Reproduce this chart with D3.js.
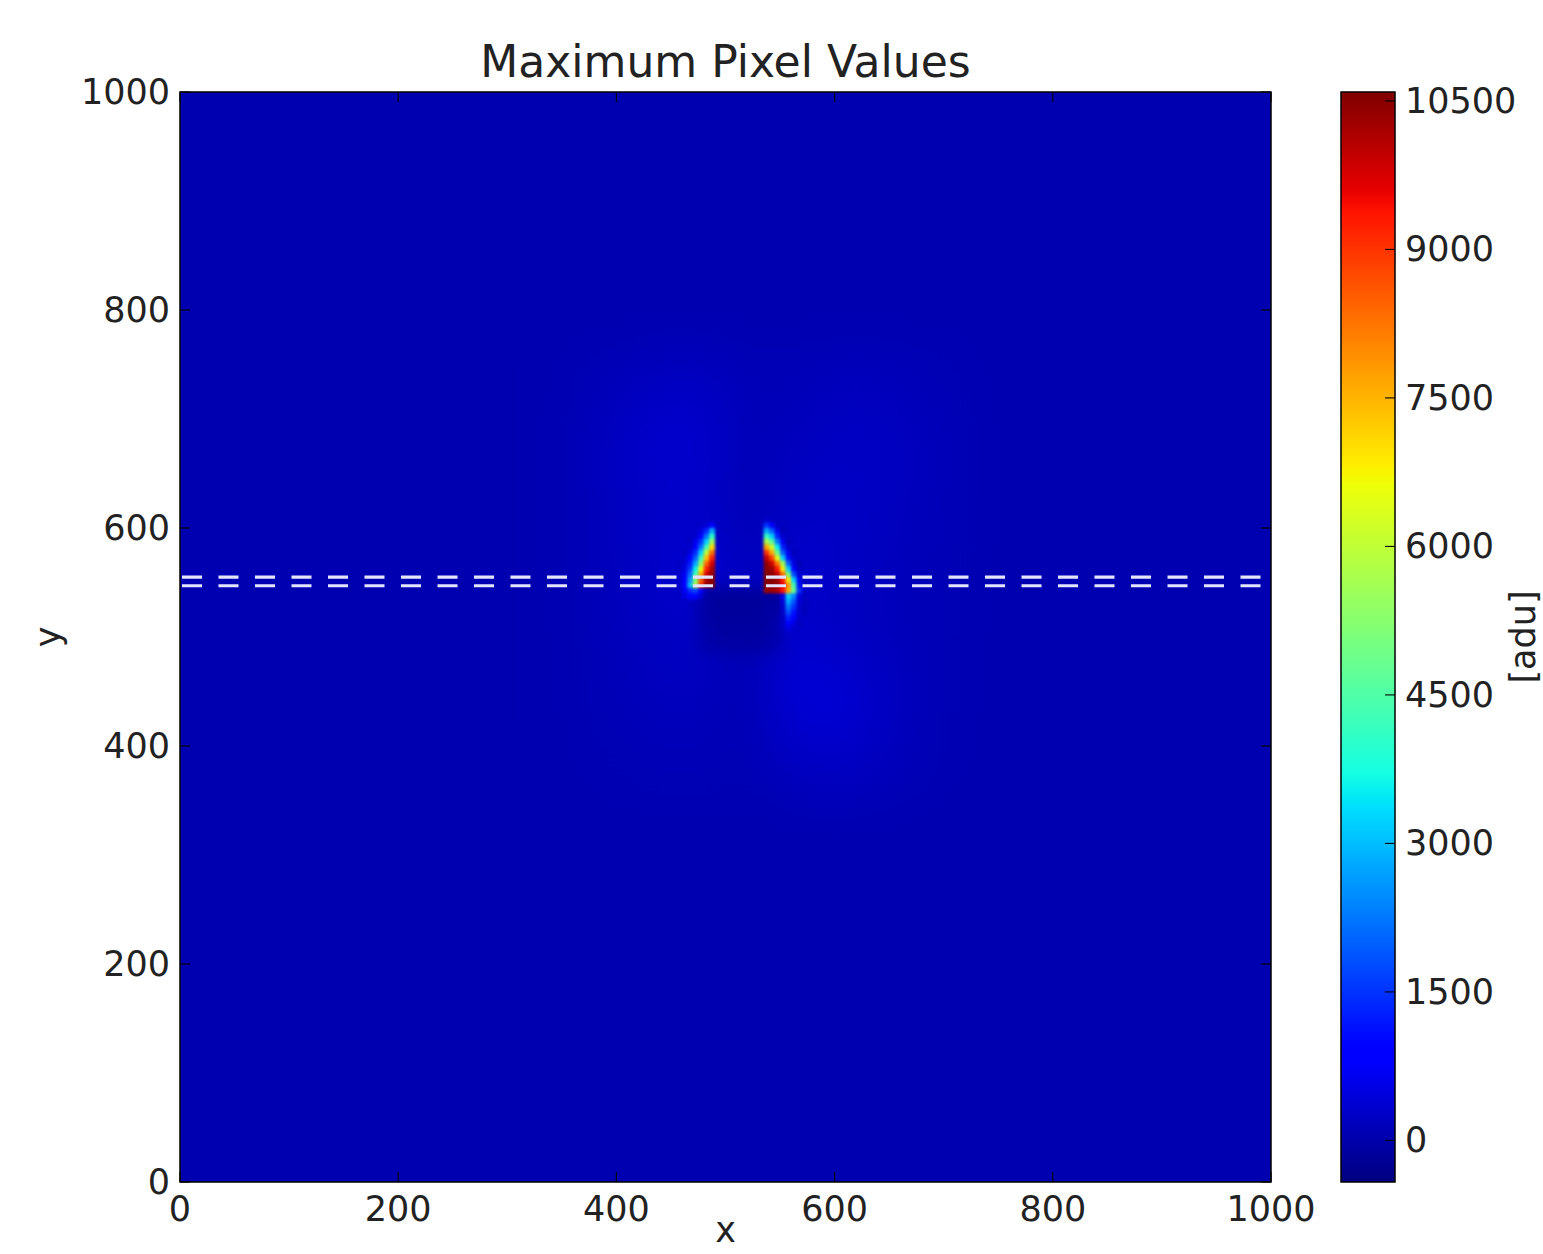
<!DOCTYPE html>
<html>
<head>
<meta charset="utf-8">
<script src="https://cdn.jsdelivr.net/npm/d3@7"></script>
<style>
  html, body { margin: 0; padding: 0; background: #fff; }
  svg { display: block; font-family: "DejaVu Sans", sans-serif; }
</style>
</head>
<body>
<svg id="chart" width="1543" height="1254"></svg>
<script>
// colour range of the colorbar
const vmin = -420;
const vmax = 10590;
const background = 40;

const xTicks = [0, 200, 400, 600, 800, 1000];
const yTicks = [0, 200, 400, 600, 800, 1000];
const cbTicks = [0, 1500, 3000, 4500, 6000, 7500, 9000, 10500];

// the two dashed rows
const cutRows = [547, 555];

// faint glow around the centre, 40 px cells (left edges / bottom edges)
const haloX0 = [340, 380, 420, 460, 500, 540, 580, 620, 660, 700];
const haloY0 = [740, 700, 660, 620, 580, 540, 500, 460, 420, 380, 340];
const haloValues = [
  [60, 80, 120, 120, 80, 80, 100, 100, 80, 60],
  [70, 150, 250, 250, 120, 120, 180, 180, 120, 70],
  [80, 200, 330, 300, 120, 150, 220, 220, 150, 80],
  [80, 200, 300, 280, 100, 200, 250, 220, 150, 80],
  [80, 180, 280, 300, 100, 250, 250, 200, 130, 80],
  [80, 170, 280, 400, 150, 350, 250, 180, 120, 70],
  [70, 150, 230, 250, 60, 300, 220, 160, 110, 70],
  [60, 130, 200, 200, 40, 380, 300, 200, 110, 60],
  [60, 110, 160, 150, 80, 380, 420, 250, 110, 60],
  [50, 90, 120, 120, 80, 250, 300, 200, 100, 50],
  [40, 60, 80, 80, 60, 120, 150, 120, 70, 40]
];

// darker gap under the two arcs, 15 px cells
const gapX0 = [475, 490, 505, 520, 535];
const gapY0 = [530, 515, 500, 485];
const gapValues = [
  [-100, -160, -160, -160, -120],
  [-80, -150, -150, -150, -100],
  [-40, -120, -120, -130, -60],
  [0, -60, -60, -80, 0]
];

// left arc, 5 px cells
const leftX0 = [455, 460, 465, 470, 475, 480, 485];
const leftY0 = [600, 595, 590, 585, 580, 575, 570, 565, 560, 555, 550, 545, 540, 535];
const leftValues = [
  [null, null, null, null, null, 400, 900],
  [null, null, null, null, 500, 1300, 2800],
  [null, null, null, 300, 900, 2200, 4000],
  [null, null, 200, 600, 1500, 3200, 5500],
  [null, null, 300, 900, 2200, 4300, 7000],
  [null, 200, 500, 1400, 3200, 6000, 8300],
  [null, 300, 800, 2000, 4200, 7300, 9200],
  [200, 400, 1200, 2800, 5300, 8400, 9800],
  [250, 500, 1600, 3600, 6600, 9200, 10200],
  [300, 700, 2100, 4400, 7600, 9800, 10400],
  [300, 900, 2600, 5200, 8500, 10200, 10500],
  [300, 1000, 3000, 5800, 9000, 10400, 10500],
  [250, 700, 1400, 1700, 900, 100, -100],
  [200, 500, 900, 900, 400, -50, -120]
];

// right arc and its tail, 5 px cells
const rightX0 = [535, 540, 545, 550, 555, 560, 565, 570];
const rightY0 = [605, 600, 595, 590, 585, 580, 575, 570, 565, 560, 555, 550, 545, 540,
                 535, 530, 525, 520, 515, 510, 505];
const rightValues = [
  [300, null, null, null, null, null, null, null],
  [1500, 800, 200, null, null, null, null, null],
  [2800, 2000, 600, 100, null, null, null, null],
  [4200, 3200, 1300, 300, null, null, null, null],
  [5800, 4600, 2300, 700, 100, null, null, null],
  [7600, 6200, 3500, 1300, 300, null, null, null],
  [9000, 7600, 4800, 2000, 600, 100, null, null],
  [9900, 8800, 6400, 3200, 1100, 300, null, null],
  [10400, 9800, 8200, 5600, 2000, 500, 100, null],
  [10500, 10300, 9300, 6800, 3200, 900, 200, null],
  [10500, 10500, 10000, 8300, 5000, 1800, 400, null],
  [10500, 10500, 10300, 9300, 6800, 3200, 700, 150],
  [10500, 10500, 10400, 9600, 7800, 4400, 1100, 250],
  [10300, 10300, 10100, 9400, 7600, 4800, 1500, 300],
  [-120, -120, -100, 600, 3200, 2400, 500, 150],
  [-120, -120, -100, 400, 2800, 1900, 400, 150],
  [-100, -100, -80, 300, 2300, 1500, 300, 150],
  [-80, -80, -60, 250, 1800, 1100, 300, 150],
  [null, null, null, 200, 1300, 800, 250, null],
  [null, null, null, 200, 900, 500, 200, null],
  [null, null, null, 150, 500, 300, null, null]
];

const haloStep = 40, gapStep = 15, fineStep = 5;

// layout
const pLeft = 180, pRight = 1271, pTop = 92, pBottom = 1182;
const cbLeft = 1341, cbRight = 1395;

const x = d3.scaleLinear().domain([0, 1000]).range([pLeft, pRight]);
const y = d3.scaleLinear().domain([0, 1000]).range([pBottom, pTop]);
const cbY = d3.scaleLinear().domain([vmin, vmax]).range([pBottom, pTop]);

// matplotlib "jet"
const jetR = d3.scaleLinear().domain([0, 0.35, 0.66, 0.89, 1]).range([0, 0, 1, 1, 0.5]).clamp(true);
const jetG = d3.scaleLinear().domain([0, 0.125, 0.375, 0.64, 0.91, 1]).range([0, 0, 1, 1, 0, 0]).clamp(true);
const jetB = d3.scaleLinear().domain([0, 0.11, 0.34, 0.65, 1]).range([0.5, 1, 1, 0, 0]).clamp(true);
const norm = d3.scaleLinear().domain([vmin, vmax]).range([0, 1]).clamp(true);
function jetT(t) {
  return d3.rgb(jetR(t) * 255, jetG(t) * 255, jetB(t) * 255).formatHex();
}
const jet = v => jetT(norm(v));

const svg = d3.select("#chart");
const defs = svg.append("defs");

defs.append("clipPath").attr("id", "plotClip")
  .append("rect").attr("x", pLeft).attr("y", pTop)
  .attr("width", pRight - pLeft).attr("height", pBottom - pTop);

function blur(id, sd) {
  defs.append("filter").attr("id", id)
    .attr("x", "-20%").attr("y", "-20%").attr("width", "140%").attr("height", "140%")
    .attr("color-interpolation-filters", "sRGB")
    .append("feGaussianBlur").attr("stdDeviation", sd);
}
blur("blurHalo", 22);
blur("blurGap", 7);
blur("blurFine", 1.8);

function drawGrid(g, xs, ys, vals, step) {
  let cells = [];
  ys.forEach((y0, r) => xs.forEach((x0, c) => {
    let v = vals[r][c];
    if (v !== null) cells.push({ x0, y0, v });
  }));
  g.selectAll("rect").data(cells).join("rect")
    .attr("x", d => x(d.x0))
    .attr("y", d => y(d.y0 + step))
    .attr("width", x(step) - x(0) + 0.4)
    .attr("height", y(0) - y(step) + 0.4)
    .attr("fill", d => jet(d.v));
}

const plot = svg.append("g").attr("clip-path", "url(#plotClip)");
plot.append("rect")
  .attr("x", pLeft).attr("y", pTop)
  .attr("width", pRight - pLeft).attr("height", pBottom - pTop)
  .attr("fill", jet(background));

drawGrid(plot.append("g").attr("filter", "url(#blurHalo)"), haloX0, haloY0, haloValues, haloStep);
drawGrid(plot.append("g").attr("filter", "url(#blurGap)"), gapX0, gapY0, gapValues, gapStep);
drawGrid(plot.append("g").attr("filter", "url(#blurFine)"), leftX0, leftY0, leftValues, fineStep);
drawGrid(plot.append("g").attr("filter", "url(#blurFine)"), rightX0, rightY0, rightValues, fineStep);

// dashed rows
plot.selectAll("line.cut").data(cutRows).join("line")
  .attr("class", "cut")
  .attr("x1", x(0)).attr("x2", x(1000))
  .attr("y1", d => y(d)).attr("y2", d => y(d))
  .attr("stroke", "#e4e4ff")
  .attr("stroke-width", 3.2)
  .attr("stroke-dasharray", "20,16.5")
  .attr("stroke-dashoffset", -2);

// frame and inward ticks
const tickLen = 10;
const axes = svg.append("g").attr("stroke", "#000");
axes.append("rect")
  .attr("x", pLeft).attr("y", pTop)
  .attr("width", pRight - pLeft).attr("height", pBottom - pTop)
  .attr("fill", "none").attr("stroke-width", 1.5);
xTicks.forEach(t => {
  axes.append("line").attr("x1", x(t)).attr("x2", x(t)).attr("y1", pBottom).attr("y2", pBottom - tickLen);
  axes.append("line").attr("x1", x(t)).attr("x2", x(t)).attr("y1", pTop).attr("y2", pTop + tickLen);
});
yTicks.forEach(t => {
  axes.append("line").attr("y1", y(t)).attr("y2", y(t)).attr("x1", pLeft).attr("x2", pLeft + tickLen);
  axes.append("line").attr("y1", y(t)).attr("y2", y(t)).attr("x1", pRight).attr("x2", pRight - tickLen);
});
axes.selectAll("line").attr("stroke-width", 1.1);

const fs = 35;
svg.append("g").selectAll("text").data(xTicks).join("text")
  .attr("x", d => x(d)).attr("y", pBottom + 39)
  .attr("text-anchor", "middle").attr("font-size", fs).attr("fill", "#222")
  .text(d => d);
svg.append("g").selectAll("text").data(yTicks).join("text")
  .attr("x", pLeft - 10).attr("y", d => y(d) + 12)
  .attr("text-anchor", "end").attr("font-size", fs).attr("fill", "#222")
  .text(d => d);

svg.append("text")
  .attr("x", (pLeft + pRight) / 2).attr("y", 77)
  .attr("text-anchor", "middle").attr("font-size", 44).attr("fill", "#222")
  .text("Maximum Pixel Values");
svg.append("text")
  .attr("x", (pLeft + pRight) / 2).attr("y", 1242)
  .attr("text-anchor", "middle").attr("font-size", fs).attr("fill", "#222")
  .text("x");
svg.append("text")
  .attr("transform", `translate(60,${(pTop + pBottom) / 2}) rotate(-90)`)
  .attr("text-anchor", "middle").attr("font-size", fs).attr("fill", "#222")
  .text("y");

// colorbar
const grad = defs.append("linearGradient").attr("id", "jetGrad")
  .attr("x1", 0).attr("y1", 1).attr("x2", 0).attr("y2", 0);
d3.range(0, 1.0001, 0.005).forEach(t => {
  grad.append("stop").attr("offset", t).attr("stop-color", jetT(t));
});
svg.append("rect")
  .attr("x", cbLeft).attr("y", cbY(vmax))
  .attr("width", cbRight - cbLeft).attr("height", cbY(vmin) - cbY(vmax))
  .attr("fill", "url(#jetGrad)")
  .attr("stroke", "#000").attr("stroke-width", 1.5);
svg.append("g").attr("stroke", "#000").attr("stroke-width", 1.1)
  .selectAll("line").data(cbTicks).join("line")
  .attr("x1", cbRight).attr("x2", cbRight - tickLen)
  .attr("y1", d => cbY(d)).attr("y2", d => cbY(d));
svg.append("g").selectAll("text").data(cbTicks).join("text")
  .attr("x", cbRight + 10).attr("y", d => cbY(d) + 12)
  .attr("font-size", fs).attr("fill", "#222")
  .text(d => d);
svg.append("text")
  .attr("transform", `translate(1535,${(pTop + pBottom) / 2}) rotate(-90)`)
  .attr("text-anchor", "middle").attr("font-size", fs).attr("fill", "#222")
  .text("[adu]");
</script>
</body>
</html>
